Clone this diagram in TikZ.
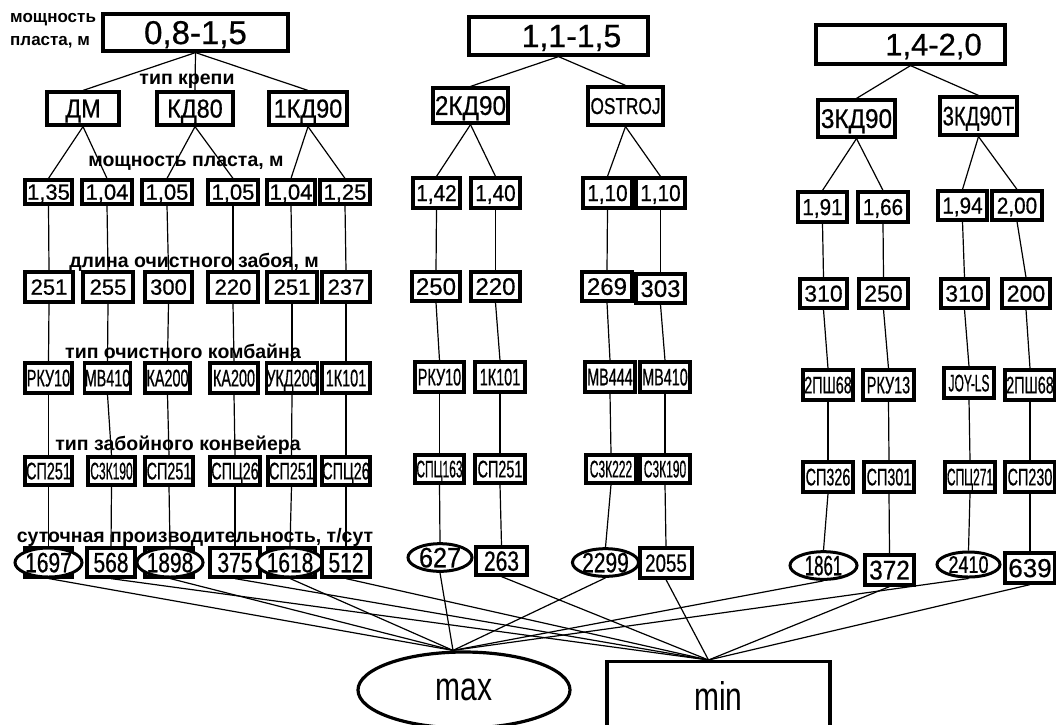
\documentclass[tikz,border=0pt]{standalone}
\usepackage{fontspec}
\setmainfont{Liberation Sans}
\newfontfamily\fN[FakeBold=0.6]{Liberation Sans}
\newfontfamily\fL{Liberation Sans}
\newfontfamily\fA[FakeStretch=0.9,FakeBold=0.6]{Liberation Sans}
\newfontfamily\fB[FakeStretch=0.75,FakeBold=0.6]{Liberation Sans}
\newfontfamily\fC[FakeStretch=0.6,FakeBold=0.6]{Liberation Sans}
\newfontfamily\fD[FakeStretch=0.5,FakeBold=0.6]{Liberation Sans}
\newfontfamily\fM[FakeStretch=0.75]{Liberation Sans}
\usetikzlibrary{shapes.geometric}
\newcommand\fs[1]{\fontsize{#1}{#1}\selectfont}
\tikzset{
  bx/.style={draw, line width=3.2pt, fill=white, inner sep=0pt, rectangle, text depth=0pt},
  el/.style={draw, line width=3pt, fill=white, inner sep=0pt, ellipse, text depth=0pt},
  cn/.style={line width=1.2pt},
  lbl/.style={inner sep=0pt, font=\fL\bfseries\fs{19.5}},
}
% #1 style, #2 name, #3 x1, #4 y1, #5 x2, #6 y2, #7 text, #8 font
\newcommand\mk[8]{\node[#1, minimum width={#5-#3}, minimum height={#6-#4}, font=#8] (#2) at ({(#3+#5)/2},{(#4+#6)/2}) {#7};}
\begin{document}
\begin{tikzpicture}[x=1pt,y=-1pt]
\useasboundingbox (0,0) rectangle (1056,724);
\clip (0,0) rectangle (1056,724);
\fill[white] (0,0) rectangle (1056,724);

% ---------- group 1 ----------
\node[lbl, font=\fL\bfseries\fontsize{17}{23}\selectfont, align=left, anchor=north west] (lt) at (10,13) {мощность\\пласта, м};
\mk{bx}{a1}{103}{14}{288}{51}{0,8-1,5}{\fN\fs{33}}
\mk{bx}{b1}{47}{92}{119}{125}{ДМ}{\fA\fs{26}}
\mk{bx}{b2}{157}{92}{233}{125}{КД80}{\fA\fs{26}}
\mk{bx}{b3}{269}{92}{347}{125}{1КД90}{\fA\fs{26}}

\mk{bx}{c1}{25}{180}{72}{204}{1,35}{\fN\fs{22}}
\mk{bx}{c2}{82}{180}{132}{204}{1,04}{\fN\fs{22}}
\mk{bx}{c3}{142}{180}{192}{204}{1,05}{\fN\fs{22}}
\mk{bx}{c4}{208}{180}{258}{204}{1,05}{\fN\fs{22}}
\mk{bx}{c5}{267}{180}{315}{204}{1,04}{\fN\fs{22}}
\mk{bx}{c6}{320}{180}{370}{204}{1,25}{\fN\fs{22}}

\mk{bx}{d1}{25}{272}{73}{302}{251}{\fN\fs{22}}
\mk{bx}{d2}{83}{272}{133}{302}{255}{\fN\fs{22}}
\mk{bx}{d3}{145}{272}{192}{302}{300}{\fN\fs{22}}
\mk{bx}{d4}{208}{272}{258}{302}{220}{\fN\fs{22}}
\mk{bx}{d5}{267}{272}{317}{302}{251}{\fN\fs{22}}
\mk{bx}{d6}{322}{272}{370}{302}{237}{\fN\fs{22}}

\mk{bx}{e1}{25}{363}{72}{393}{РКУ10}{\fC\fs{24}}
\mk{bx}{e2}{85}{363}{130}{393}{МВ410}{\fC\fs{24}}
\mk{bx}{e3}{145}{363}{190}{393}{КА200}{\fC\fs{24}}
\mk{bx}{e4}{210}{363}{258}{393}{КА200}{\fC\fs{24}}
\mk{bx}{e5}{267}{363}{317}{393}{УКД200}{\fC\fs{24}}
\mk{bx}{e6}{322}{363}{370}{393}{1К101}{\fC\fs{24}}

\mk{bx}{f1}{25}{457}{72}{485}{СП251}{\fC\fs{24}}
\mk{bx}{f2}{88}{457}{135}{485}{С3К190}{\fD\fs{24}}
\mk{bx}{f3}{145}{457}{193}{485}{СП251}{\fC\fs{24}}
\mk{bx}{f4}{210}{457}{260}{485}{СПЦ26}{\fC\fs{24}}
\mk{bx}{f5}{268}{457}{315}{485}{СП251}{\fC\fs{24}}
\mk{bx}{f6}{322}{457}{370}{485}{СПЦ26}{\fC\fs{24}}

\draw[line width=3.2pt] (25,548) rectangle (72,577);
\draw[line width=3.2pt] (145,548) rectangle (193,577);
\draw[line width=3.2pt] (268,548) rectangle (315,577);
\mk{el}{g1}{15}{548}{82}{577}{1697}{\fB\fs{28}}
\mk{bx}{g2}{87}{548}{135}{577}{568}{\fB\fs{28}}
\mk{el}{g3}{138}{548}{202}{577}{1898}{\fB\fs{28}}
\mk{bx}{g4}{210}{548}{260}{577}{375}{\fB\fs{28}}
\mk{el}{g5}{260}{548}{320}{577}{1618}{\fB\fs{28}}
\mk{bx}{g6}{322}{548}{370}{577}{512}{\fB\fs{28}}

\node[lbl] (l1) at (187,81) {тип крепи};
\node[lbl] (l2) at (186,163) {мощность пласта, м};
\node[lbl] (l3) at (194,262) {длина очистного забоя, м};
\node[lbl] (l4) at (183,351) {тип очистного комбайна};
\node[lbl] (l5) at (178,445) {тип забойного конвейера};
\node[lbl] (l6) at (195,537) {суточная производительность, т/сут};

% ---------- group 2 ----------
\mk{bx}{a2}{469}{17}{648}{55}{\hspace*{26pt}1,1-1,5}{\fN\fs{32}}
\mk{bx}{b4}{433}{88}{508}{123}{2КД90}{\fA\fs{27}}
\mk{bx}{b5}{588}{87}{663}{125}{OSTROJ}{\fB\fs{23}}

\mk{bx}{c7}{413}{178}{460}{208}{1,42}{\fA\fs{23}}
\mk{bx}{c8}{471}{178}{520}{208}{1,40}{\fA\fs{23}}
\mk{bx}{c9}{583}{178}{632}{208}{1,10}{\fA\fs{23}}
\mk{bx}{c10}{636}{178}{685}{208}{1,10}{\fA\fs{23}}

\mk{bx}{d7}{412}{272}{460}{301}{250}{\fN\fs{24}}
\mk{bx}{d8}{471}{272}{520}{301}{220}{\fN\fs{24}}
\mk{bx}{d9}{582}{272}{632}{301}{269}{\fN\fs{24}}
\mk{bx}{d10}{636}{274}{685}{303}{303}{\fN\fs{24}}

\mk{bx}{e7}{415}{362}{464}{392}{РКУ10}{\fC\fs{24}}
\mk{bx}{e8}{475}{362}{525}{392}{1К101}{\fC\fs{24}}
\mk{bx}{e9}{585}{362}{635}{392}{МВ444}{\fC\fs{24}}
\mk{bx}{e10}{640}{362}{690}{392}{МВ410}{\fC\fs{24}}

\mk{bx}{f7}{415}{455}{464}{483}{СПЦ163}{\fD\fs{24}}
\mk{bx}{f8}{475}{455}{525}{483}{СП251}{\fC\fs{24}}
\mk{bx}{f9}{586}{455}{636}{483}{С3К222}{\fD\fs{24}}
\mk{bx}{f10}{640}{455}{690}{483}{С3К190}{\fD\fs{24}}

\mk{el}{g7}{408}{545}{472}{570}{627}{\fA\fs{28}}
\mk{bx}{g8}{476}{547}{527}{575}{263}{\fB\fs{28}}
\mk{el}{g9}{573}{550}{638}{575}{2299}{\fB\fs{28}}
\mk{bx}{g10}{640}{548}{692}{578}{2055}{\fB\fs{25}}

% ---------- group 3 ----------
\mk{bx}{a3}{816}{25}{1005}{64}{\hspace*{46pt}1,4-2,0}{\fN\fs{31}}
\mk{bx}{b6}{818}{100}{895}{137}{3КД90}{\fA\fs{27}}
\mk{bx}{b7}{940}{97}{1017}{135}{3КД90Т}{\fB\fs{27}}

\mk{bx}{c11}{798}{192}{847}{222}{1,91}{\fA\fs{23}}
\mk{bx}{c12}{858}{192}{908}{222}{1,66}{\fA\fs{23}}
\mk{bx}{c13}{938}{191}{987}{220}{1,94}{\fA\fs{23}}
\mk{bx}{c14}{992}{191}{1042}{220}{2,00}{\fA\fs{23}}

\mk{bx}{d11}{800}{279}{847}{308}{310}{\fN\fs{23}}
\mk{bx}{d12}{859}{279}{908}{308}{250}{\fN\fs{23}}
\mk{bx}{d13}{941}{279}{988}{308}{310}{\fN\fs{23}}
\mk{bx}{d14}{1002}{279}{1050}{308}{200}{\fN\fs{23}}

\mk{bx}{e11}{803}{370}{853}{400}{2ПШ68}{\fC\fs{24}}
\mk{bx}{e12}{863}{370}{914}{400}{РКУ13}{\fC\fs{24}}
\mk{bx}{e13}{944}{368}{994}{398}{JOY-LS}{\fD\fs{24}}
\mk{bx}{e14}{1005}{370}{1055}{400}{2ПШ68}{\fC\fs{24}}

\mk{bx}{f11}{803}{462}{853}{492}{СП326}{\fC\fs{24}}
\mk{bx}{f12}{864}{462}{914}{492}{СП301}{\fC\fs{24}}
\mk{bx}{f13}{945}{462}{995}{492}{СПЦ271}{\fD\fs{24}}
\mk{bx}{f14}{1005}{462}{1055}{492}{СП230}{\fC\fs{24}}

\mk{el}{g11}{790}{553}{857}{578}{1861}{\fC\fs{28}}
\mk{bx}{g12}{865}{555}{914}{585}{372}{\fA\fs{27}}
\mk{el}{g13}{937}{552}{1000}{577}{2410}{\fB\fs{24}}
\mk{bx}{g14}{1005}{553}{1055}{583}{639}{\fN\fs{26}}

% ---------- max / min ----------
\node[el, line width=3.2pt, minimum width=212, minimum height=76, font=\fM\fs{40}] (max) at (464,690) {max};
\node[bx, line width=3.2pt, minimum width=223, minimum height=68, anchor=north, font=\fM\fs{40}] (min) at (718.5,660) {min};

% ---------- connectors ----------
\foreach \p/\c in {a1/b1,a1/b2,a1/b3,b1/c1,b1/c2,b2/c3,b2/c4,b3/c5,b3/c6,
                   a2/b4,a2/b5,b4/c7,b4/c8,b5/c9,b5/c10,
                   a3/b6,a3/b7,b6/c11,b6/c12,b7/c13,b7/c14}
  \draw[cn] (\p.south) -- (\c.north);
\foreach \i in {1,...,14}{
  \draw[cn] (c\i.south) -- (d\i.north);
  \draw[cn] (d\i.south) -- (e\i.north);
  \draw[cn] (e\i.south) -- (f\i.north);
  \draw[cn] (f\i.south) -- (g\i.north);
}
\foreach \g in {g1,g3,g5,g7,g9,g11,g13}
  \draw[cn] (\g.south) -- ([xshift=-11pt]max.north);
\foreach \g in {g2,g4,g6,g8,g10,g12,g14}
  \draw[cn] (\g.south) -- ([xshift=-10pt]min.north);
\end{tikzpicture}
\end{document}
